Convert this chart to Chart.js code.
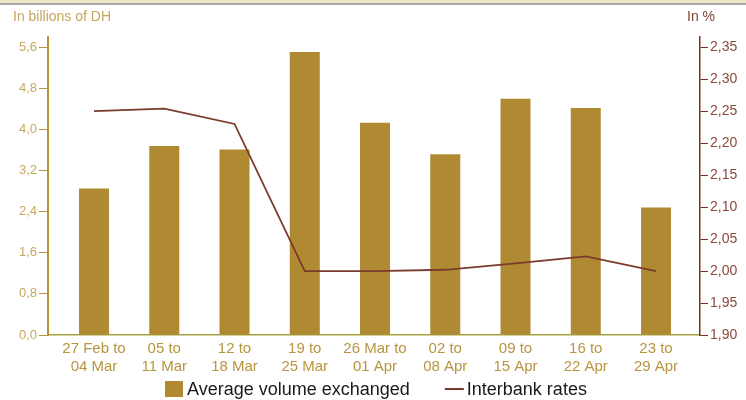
<!DOCTYPE html>
<html><head><meta charset="utf-8">
<script src="https://cdn.jsdelivr.net/npm/chart.js@4/dist/chart.umd.min.js"></script>
<style>
html,body{margin:0;padding:0;background:#fff;}
#wrap{position:relative;width:746px;height:400px;}
#band{position:absolute;left:0;top:0;width:746px;height:3px;background:#EEE3C2;border-bottom:2px solid #A8A8A8;}
</style></head><body>
<div id="wrap"><canvas id="c" width="746" height="400"></canvas><div id="band"></div></div>
<script>
const categories = [["27 Feb to","04 Mar"],["05 to","11 Mar"],["12 to","18 Mar"],["19 to","25 Mar"],["26 Mar to","01 Apr"],["02 to","08 Apr"],["09 to","15 Apr"],["16 to","22 Apr"],["23 to","29 Apr"]];
const volumeValues = [2.85, 3.68, 3.61, 5.51, 4.13, 3.52, 4.60, 4.42, 2.48];
const rateValues = [2.250, 2.254, 2.230, 2.000, 2.000, 2.002, 2.012, 2.023, 2.000];
const volumeTicks = [0, 0.8, 1.6, 2.4, 3.2, 4.0, 4.8, 5.6];
const rateTicks = [1.90, 1.95, 2.00, 2.05, 2.10, 2.15, 2.20, 2.25, 2.30, 2.35];
const seriesNames = ["Average volume exchanged", "Interbank rates"];
const axisTitles = ["In billions of DH", "In %"];

const BAR = '#B08A33', LINE = '#7B3B2C';
const FONT = '"Liberation Sans", Arial, sans-serif';

const titlesAndLegend = {
  id: 'titlesAndLegend',
  afterDraw(chart) {
    const ctx = chart.ctx;
    ctx.save();
    ctx.textBaseline = 'middle';
    ctx.font = '14px ' + FONT;
    ctx.fillStyle = '#C7A55C';
    ctx.textAlign = 'left';
    ctx.fillText(axisTitles[0], 13, 17);
    ctx.fillStyle = '#7E4536';
    ctx.textAlign = 'right';
    ctx.fillText(axisTitles[1], 715, 17);
    // legend
    const ds = chart.data.datasets;
    ctx.font = '18px ' + FONT;
    ctx.textAlign = 'left';
    const w0 = ctx.measureText(ds[1].label).width;
    const w1 = ctx.measureText(ds[0].label).width;
    const boxW = 18, gap = 4, between = 35, lineW = 19, gap2 = 3;
    const total = boxW + gap + w0 + between + lineW + gap2 + w1;
    let x = Math.round(373 - total / 2) + 3;
    const y = 389;
    ctx.fillStyle = ds[1].backgroundColor;
    ctx.fillRect(x, 381, boxW, 16);
    x += boxW + gap;
    ctx.fillStyle = '#1a1a1a';
    ctx.fillText(ds[1].label, x, y + 1);
    x += w0 + between;
    ctx.strokeStyle = ds[0].borderColor;
    ctx.lineWidth = 2;
    ctx.beginPath(); ctx.moveTo(x, y); ctx.lineTo(x + lineW, y); ctx.stroke();
    x += lineW + gap2;
    ctx.fillText(ds[0].label, x, y + 1);
    ctx.restore();
  }
};

new Chart(document.getElementById('c'), {
  type: 'bar',
  data: {
    datasets: [
      {
        type: 'line', label: seriesNames[1], yAxisID: 'y1', order: 0,
        data: rateValues.map((v, i) => ({x: i, y: v})),
        borderColor: LINE, backgroundColor: LINE, borderWidth: 1.8,
        pointRadius: 0, tension: 0, fill: false
      },
      {
        type: 'bar', label: seriesNames[0], yAxisID: 'y', order: 1,
        data: volumeValues.map((v, i) => ({x: i, y: v})),
        backgroundColor: BAR, borderWidth: 0,
        barPercentage: 0.427, categoryPercentage: 1.0
      }
    ]
  },
  options: {
    responsive: false, animation: false,
    layout: {padding: {top: 37, bottom: 20, left: 0, right: 0}},
    plugins: {legend: {display: false}, tooltip: {enabled: false}},
    scales: {
      x: {
        type: 'linear', min: -0.655, max: 8.626, offset: false, clip: false,
        afterBuildTicks: s => { s.ticks = categories.map((c, i) => ({value: i})); },
        afterFit: s => { s.height = 45; },
        grid: {display: false, drawTicks: false, offset: false},
        border: {color: '#A6A13C', width: 1.5},
        ticks: {
          callback: v => categories[v] || '',
          autoSkip: false, maxRotation: 0, padding: 5,
          color: '#B8953F', font: {size: 15, family: FONT, lineHeight: 1.2}
        }
      },
      y: {
        position: 'left', min: 0, max: 5.8, clip: false,
        afterBuildTicks: s => { s.ticks = volumeTicks.map(v => ({value: v})); },
        afterFit: s => { s.width = 48; },
        grid: {drawOnChartArea: false, tickLength: 9, tickColor: '#B8923A', tickWidth: 1},
        border: {color: '#B8923A', width: 2},
        ticks: {
          callback: v => v.toFixed(1).replace('.', ','),
          padding: 2, color: '#C9A860', font: {size: 13, family: FONT}
        }
      },
      y1: {
        position: 'right', min: 1.90, max: 2.366, clip: false,
        afterBuildTicks: s => { s.ticks = rateTicks.map(v => ({value: v})); },
        afterFit: s => { s.width = 46; },
        grid: {drawOnChartArea: false, tickLength: 8, tickColor: '#7A3020', tickWidth: 1},
        border: {color: '#7A3020', width: 1.5},
        ticks: {
          callback: v => v.toFixed(2).replace('.', ','),
          padding: 2, color: '#8A4A3C', font: {size: 14, family: FONT}
        }
      }
    }
  },
  plugins: [titlesAndLegend]
});
</script>
</body></html>
